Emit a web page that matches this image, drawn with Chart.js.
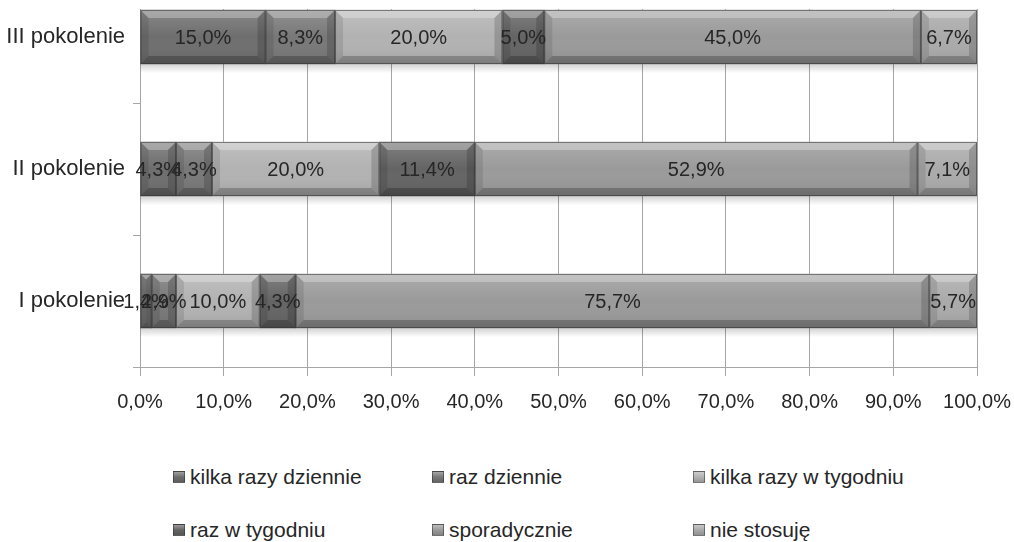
<!DOCTYPE html>
<html>
<head>
<meta charset="utf-8">
<script src="https://cdn.jsdelivr.net/npm/chart.js@4"></script>
<style>
  body { margin: 0; background: #fff; width: 1014px; height: 542px; overflow: hidden; position: relative; }
  #clip { position: absolute; left: 0; top: 9px; width: 1014px; height: 533px; overflow: hidden; }
  #box { position: absolute; left: 0; top: -38px; width: 1014px; height: 446px; }
  .leg { position: absolute; font-family: 'Liberation Sans', Arial, sans-serif; font-size: 21px; color: #262626; white-space: nowrap; line-height: 30px; }
  .leg i { position: absolute; width: 12px; height: 12px; top: 9px; box-sizing: border-box; border: 1px solid rgba(40,40,40,0.5); }
</style>
</head>
<body>
<div id="clip"><div id="box"><canvas id="chart"></canvas></div></div>
<div id="legend"></div>
<script>
// categories, top to bottom
var pokolenia = ["III pokolenie", "II pokolenie", "I pokolenie"];

// series values in percent
var kilkaRazyDziennie  = [15.0, 4.3, 1.4];
var razDziennie        = [8.3, 4.3, 2.9];
var kilkaRazyWTygodniu = [20.0, 20.0, 10.0];
var razWTygodniu       = [5.0, 11.4, 4.3];
var sporadycznie       = [45.0, 52.9, 75.7];
var nieStosuje         = [6.7, 7.1, 5.7];

var seriesNames = ["kilka razy dziennie", "raz dziennie", "kilka razy w tygodniu", "raz w tygodniu", "sporadycznie", "nie stosuję"];
var seriesData = [kilkaRazyDziennie, razDziennie, kilkaRazyWTygodniu, razWTygodniu, sporadycznie, nieStosuje];
var seriesColors = ["#6e6e6e", "#787878", "#b2b2b2", "#646464", "#9a9a9a", "#aaaaaa"];

var xTicks = [0, 10, 20, 30, 40, 50, 60, 70, 80, 90, 100];

var FONT = "'Liberation Sans', Arial, sans-serif";

function pct(v) {
    return v.toFixed(1).replace(".", ",") + "%";
}

// bevel + shadow + value labels drawn on top of the bars
var bevelPlugin = {
    id: "bevel",
    afterDatasetsDraw: function (chart) {
        var ctx = chart.ctx;
        ctx.save();
        chart.data.datasets.forEach(function (ds, di) {
            var meta = chart.getDatasetMeta(di);
            meta.data.forEach(function (bar) {
                var p = bar.getProps(["x", "y", "base", "height"], true);
                var l = Math.min(p.x, p.base), r = Math.max(p.x, p.base);
                var t = p.y - p.height / 2, b = p.y + p.height / 2;
                var bv = Math.min(8, (r - l) / 2);

                // shadow under bar
                var sg = ctx.createLinearGradient(0, b, 0, b + 9);
                sg.addColorStop(0, "rgba(0,0,0,0.18)");
                sg.addColorStop(1, "rgba(0,0,0,0)");
                ctx.fillStyle = sg;
                ctx.fillRect(l, b, r - l, 9);

                // face gradient
                var fg = ctx.createLinearGradient(0, t, 0, b);
                fg.addColorStop(0, "rgba(255,255,255,0.18)");
                fg.addColorStop(0.5, "rgba(255,255,255,0)");
                fg.addColorStop(1, "rgba(0,0,0,0.10)");
                ctx.fillStyle = fg;
                ctx.fillRect(l, t, r - l, b - t);

                function poly(pts, col) {
                    ctx.beginPath();
                    ctx.moveTo(pts[0], pts[1]);
                    for (var k = 2; k < pts.length; k += 2) ctx.lineTo(pts[k], pts[k + 1]);
                    ctx.closePath();
                    ctx.fillStyle = col;
                    ctx.fill();
                }
                poly([l, t, r, t, r - bv, t + bv, l + bv, t + bv], "rgba(255,255,255,0.28)");
                poly([l, b, r, b, r - bv, b - bv, l + bv, b - bv], "rgba(0,0,0,0.22)");
                poly([l, t, l + bv, t + bv, l + bv, b - bv, l, b], "rgba(0,0,0,0.10)");
                poly([r, t, r - bv, t + bv, r - bv, b - bv, r, b], "rgba(0,0,0,0.16)");

                ctx.strokeStyle = "rgba(50,50,50,0.55)";
                ctx.lineWidth = 1;
                ctx.strokeRect(l + 0.5, t + 0.5, r - l - 1, b - t - 1);
            });
        });

        // value labels
        ctx.font = "20px " + FONT;
        ctx.fillStyle = "#262626";
        ctx.textAlign = "center";
        ctx.textBaseline = "middle";
        chart.data.datasets.forEach(function (ds, di) {
            var meta = chart.getDatasetMeta(di);
            meta.data.forEach(function (bar, i) {
                var p = bar.getProps(["x", "y", "base"], true);
                ctx.fillText(pct(ds.data[i]), (p.x + p.base) / 2, p.y + 1);
            });
        });
        ctx.restore();
    }
};

var datasets = seriesNames.map(function (name, i) {
    return {
        label: name,
        data: seriesData[i],
        backgroundColor: seriesColors[i],
        borderWidth: 0,
        barThickness: 54
    };
});

var chart = new Chart("chart", {
    type: "bar",
    data: { labels: pokolenia, datasets: datasets },
    plugins: [bevelPlugin],
    options: {
        indexAxis: "y",
        responsive: true,
        maintainAspectRatio: false,
        animation: false,
        layout: { padding: { left: 0, right: 37, top: 0, bottom: 0 } },
        plugins: { legend: { display: false }, tooltip: { enabled: false } },
        scales: {
            x: {
                stacked: true,
                min: 0,
                max: 100,
                afterFit: function (s) { s.height = 50; s.paddingLeft = 0; s.paddingRight = 0; },
                afterBuildTicks: function (s) { s.ticks = xTicks.map(function (v) { return { value: v }; }); },
                ticks: {
                    padding: 14,
                    color: "#262626",
                    font: { family: FONT, size: 20 },
                    maxRotation: 0,
                    callback: function (v) { return pct(v); }
                },
                grid: { color: "#a6a6a6", tickLength: 9, lineWidth: 1 },
                border: { color: "#a6a6a6" }
            },
            y: {
                stacked: true,
                afterFit: function (s) { s.width = 140; s.paddingTop = 0; s.paddingBottom = 0; },
                ticks: {
                    padding: 8,
                    color: "#262626",
                    font: { family: FONT, size: 22 }
                },
                grid: { offset: true, drawOnChartArea: false, tickLength: 7, color: "#a6a6a6" },
                border: { color: "#a6a6a6" }
            }
        }
    }
});

// legend laid out in three columns, two rows
var legCols = [173, 432, 693];
var legRows = [477, 530];
var legendBox = document.getElementById("legend");
seriesNames.forEach(function (name, i) {
    var d = document.createElement("div");
    d.className = "leg";
    d.style.left = legCols[i % 3] + "px";
    d.style.top = (legRows[Math.floor(i / 3)] - 15) + "px";
    d.style.paddingLeft = "17px";
    var m = document.createElement("i");
    m.style.left = "0px";
    m.style.background = "linear-gradient(to bottom, rgba(255,255,255,0.35), rgba(255,255,255,0) 50%, rgba(0,0,0,0.15)), " + seriesColors[i];
    d.appendChild(m);
    d.appendChild(document.createTextNode(name));
    legendBox.appendChild(d);
});
</script>
</body>
</html>
